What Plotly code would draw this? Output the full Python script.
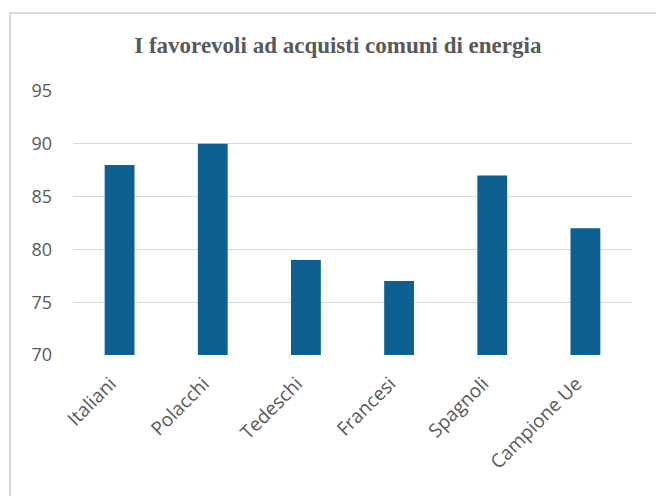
import plotly.graph_objects as go

categories = ["Italiani", "Polacchi", "Tedeschi", "Francesi", "Spagnoli", "Campione Ue"]
values = [88, 90, 79, 77, 87, 82]
y_ticks = [70, 75, 80, 85, 90, 95]

W, H = 656, 496
L, R, T, B = 73, 24, 91, 141
pw, ph = W - L - R, H - T - B

def px_x(x):
    return (x - L) / pw

def px_y(y):
    return (H - B - y) / ph

fig = go.Figure(go.Bar(x=categories, y=values, marker=dict(color="#0d6091", line=dict(width=0))))

fig.update_layout(
    width=W, height=H,
    margin=dict(l=L, r=R, t=T, b=B, autoexpand=False),
    paper_bgcolor="white", plot_bgcolor="white",
    bargap=0.68,
    showlegend=False,
    title=dict(text="<b>I favorevoli ad acquisti comuni di energia</b>",
               x=0.515, xanchor="center", y=1 - 45 / H, yanchor="middle",
               font=dict(family="Liberation Serif", size=23, color="#595959")),
    font=dict(family="Open Sans", color="#595959"),
    xaxis=dict(tickangle=-45, tickfont=dict(size=19, color="#595959"), showgrid=False,
               showline=False, ticks="", zeroline=False,
               ticklabelstandoff=13, ticklabelshift=-9),
    yaxis=dict(range=[70, 95], tickvals=y_ticks, tickfont=dict(size=18, color="#595959"),
               showgrid=True, gridcolor="#d9d9d9", gridwidth=1, zeroline=False,
               showline=False, ticks="", ticklabelstandoff=20),
    shapes=[dict(type="rect", xref="paper", yref="paper",
                 x0=px_x(10), x1=px_x(700), y0=px_y(540), y1=px_y(13),
                 line=dict(color="#d9d9d9", width=2), fillcolor="rgba(0,0,0,0)", layer="below")],
)

fig.write_html("out.html", config={"displayModeBar": False},
               post_script="document.body.style.margin='0';document.body.style.overflow='hidden';")
